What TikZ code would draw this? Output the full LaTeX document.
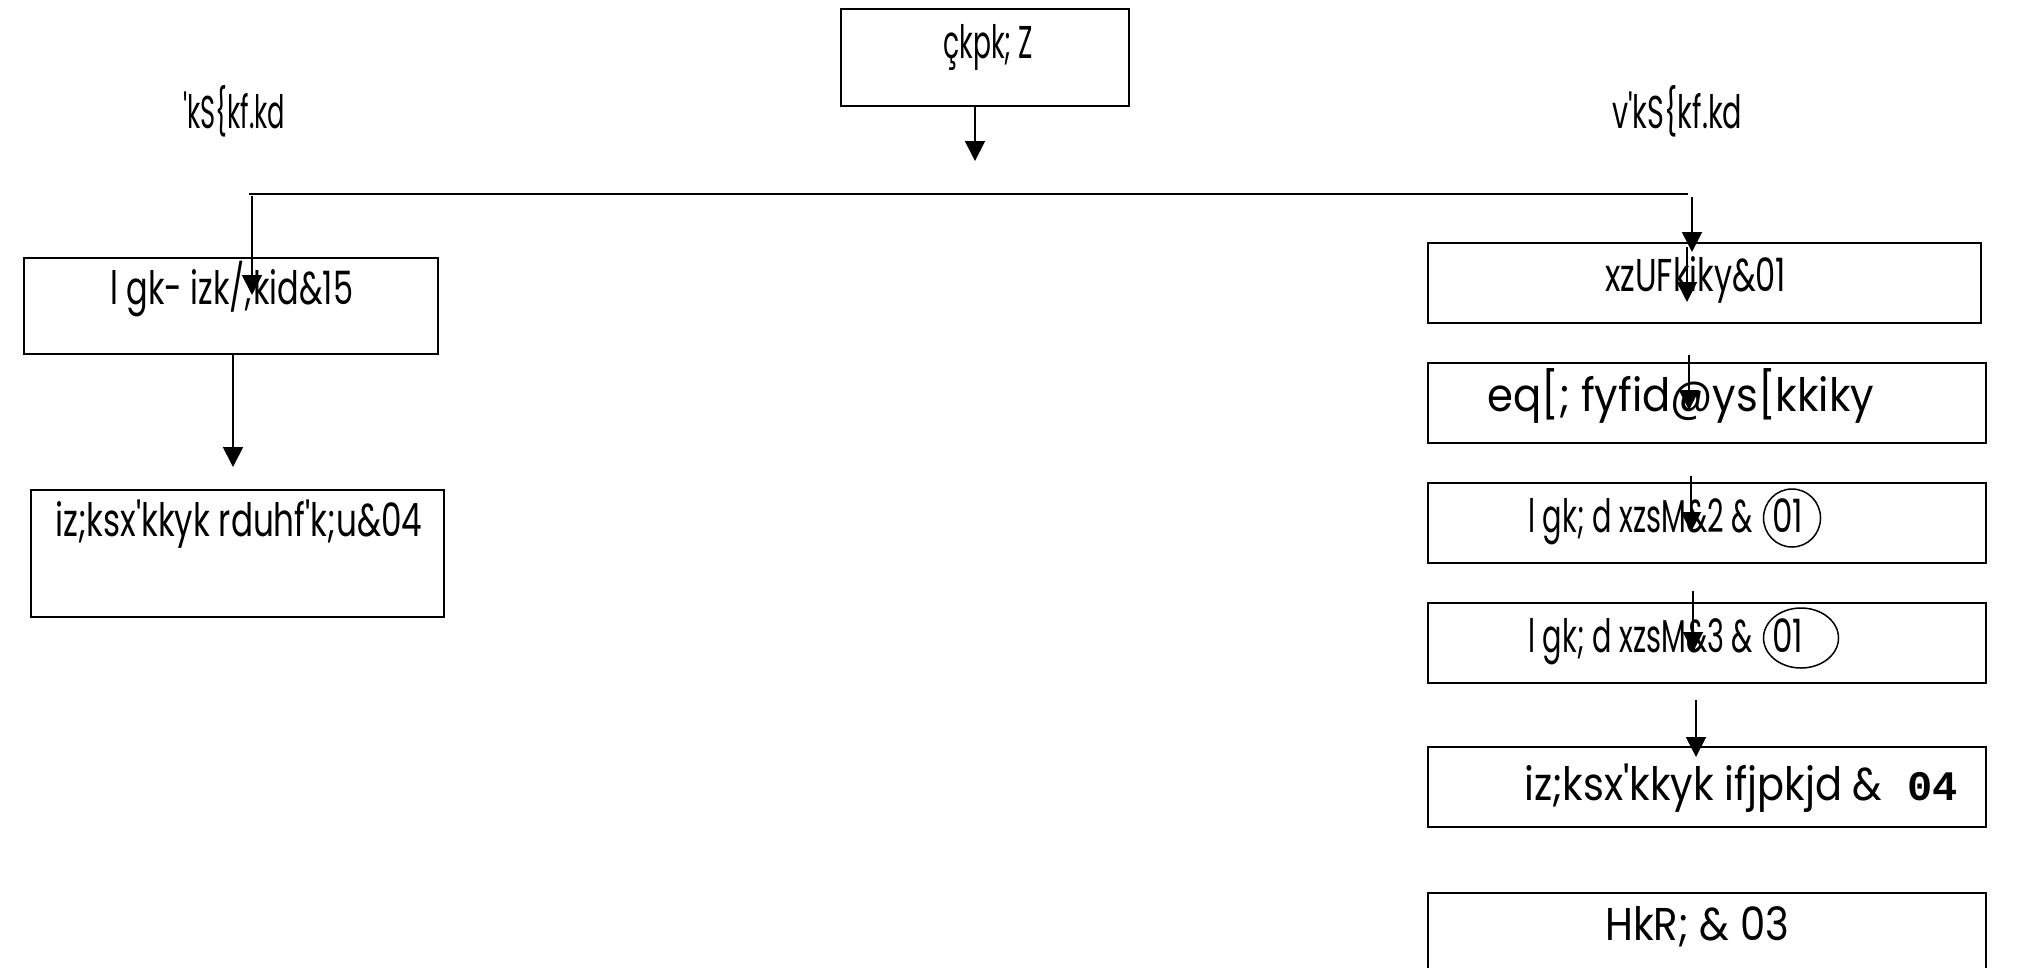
\documentclass[tikz,border=0pt]{standalone}
\usepackage{fontspec}
\usepackage{graphicx}
\usetikzlibrary{arrows.meta,shapes.geometric}
\newfontfamily\kd{Poppins}[Ligatures=NoCommon]
\newfontfamily\kdmono{Liberation Mono}
\newcommand\fitw[2]{\resizebox{#1}{\height}{#2}}
\begin{document}
\begin{tikzpicture}[x=1pt,y=-1pt,
  box/.style={draw, line width=2.3pt, inner sep=0pt},
  lbl/.style={anchor=base west, inner sep=0pt, font=\kd\fontsize{46}{52}\selectfont},
  arr/.style={line width=1.8pt, -{Triangle[width=20pt,length=20pt]}},
  ring/.style={draw, ellipse, line width=1.5pt, inner sep=0pt},
  rule/.style={line width=1.8pt}
]
\useasboundingbox (0,0) rectangle (2025,967);
\clip (0,0) rectangle (2025,967);

% boxes
\node[box, minimum width=288pt, minimum height=97pt] (top) at (985,57.5) {};
\node[box, minimum width=414pt, minimum height=96pt] (L1) at (231,306) {};
\node[box, minimum width=413pt, minimum height=127pt] (L2) at (237.5,553.5) {};
\node[box, minimum width=553pt, minimum height=80pt] (R1) at (1704.5,283) {};
\node[box, minimum width=558pt, minimum height=80pt] (R2) at (1707,403) {};
\node[box, minimum width=558pt, minimum height=80pt] (R3) at (1707,523) {};
\node[box, minimum width=558pt, minimum height=80pt] (R4) at (1707,643) {};
\node[box, minimum width=558pt, minimum height=80pt] (R5) at (1707,787) {};
\node[box, minimum width=558pt, minimum height=130pt, anchor=north] (R6) at (1707,892) {};

% texts
\node[lbl] (t0) at (943,58) {\fitw{90pt}{çkpk; Z}};
\node[lbl] (lab1) at (183,128) {\fitw{102pt}{'kS\{kf.kd}};
\node[lbl] (lab2) at (1612,128) {\fitw{130pt}{v'kS\{kf.kd}};
\node[lbl] (tL1) at (110,304) {\fitw{243pt}{l gk- izk/;kid\&15}};
\node[lbl] (tL2) at (55,536) {\fitw{367pt}{iz;ksx'kkyk rduhf'k;u\&04}};
\node[lbl] (tR1) at (1605,291) {\fitw{181pt}{xzUFkiky\&01}};
\node[lbl] (tR2) at (1487,411) {\fitw{387pt}{eq[; fyfid@ys[kkiky}};
\node[lbl] (tR3) at (1528,532) {\fitw{225pt}{l gk; d xzsM\&2 \&}\hspace{19pt}\fitw{31pt}{01}};
\node[ring, minimum width=57pt, minimum height=58pt] (c3) at (1792,518) {};
\node[lbl] (tR4) at (1528,652) {\fitw{225pt}{l gk; d xzsM\&3 \&}\hspace{19pt}\fitw{31pt}{01}};
\node[ring, minimum width=75pt, minimum height=60pt] (c4) at (1801,638) {};
\node[lbl] (tR5) at (1524,800) {\fitw{358pt}{iz;ksx'kkyk ifjpkjd \&}};
\node[anchor=base west, inner sep=0pt, font=\kdmono\bfseries\fontsize{42}{48}\selectfont] (n04) at (1907,800) {04};
\node[lbl] (tR6) at (1605,940) {\fitw{184pt}{HkR; \& 03}};

% connectors
\coordinate (hL) at (249,194);
\coordinate (hR) at (1688,194);
\draw[rule] (hL) -- (hR);

\coordinate (tip0) at (975,161);
\draw[arr] (top.south -| tip0) -- (tip0);

\coordinate (sL) at (252,196);
\coordinate (eL) at (252,295);
\draw[arr] (sL) -- (eL);

\coordinate (eL2) at (233,467);
\draw[arr] (L1.south -| eL2) -- (eL2);

\coordinate (s1) at (1692,197);
\coordinate (e1) at (1692,252);
\draw[arr] (s1) -- (e1);
\coordinate (s2) at (1687,247);
\coordinate (e2) at (1687,302);
\draw[arr] (s2) -- (e2);
\coordinate (s3) at (1689,355);
\coordinate (e3) at (1689,410);
\draw[arr] (s3) -- (e3);
\coordinate (s4) at (1691,476);
\coordinate (e4) at (1691,532);
\draw[arr] (s4) -- (e4);
\coordinate (s5) at (1693,591);
\coordinate (e5) at (1693,652);
\draw[arr] (s5) -- (e5);
\coordinate (s6) at (1696,700);
\coordinate (e6) at (1696,757);
\draw[arr] (s6) -- (e6);
\end{tikzpicture}
\end{document}
